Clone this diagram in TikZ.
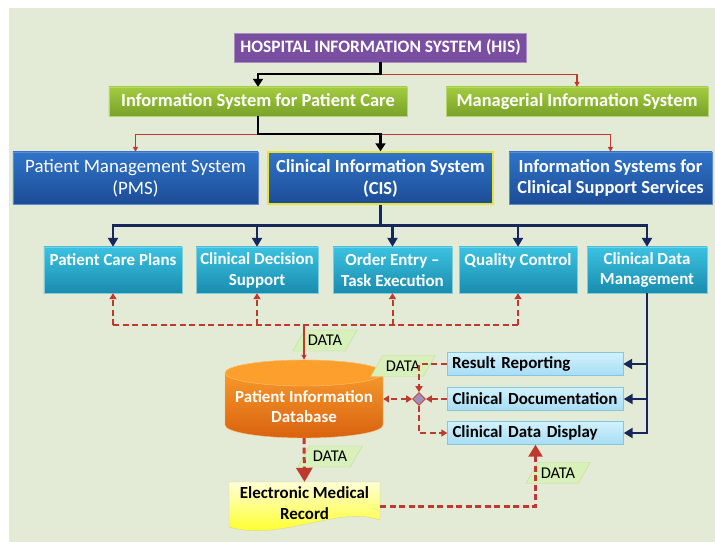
\documentclass[tikz,border=0pt]{standalone}
\usepackage{fontspec}
\setmainfont{Carlito}
\usetikzlibrary{shapes.geometric,arrows.meta}
\definecolor{bggreen}{HTML}{E3EAD5}
\definecolor{hispurple}{HTML}{7A4EA0}
\definecolor{hisedge}{HTML}{A88CC4}
\definecolor{greentop}{HTML}{A4CB3F}
\definecolor{greenbot}{HTML}{78A22A}
\definecolor{greenedge}{HTML}{B5D66A}
\definecolor{bluetop}{HTML}{3074C8}
\definecolor{bluebot}{HTML}{1C4C96}
\definecolor{blueedge}{HTML}{5C8BD0}
\definecolor{cisedge}{HTML}{E4E43C}
\definecolor{tealtop}{HTML}{3CC2E0}
\definecolor{tealbot}{HTML}{1A8CAE}
\definecolor{tealedge}{HTML}{7CCDE0}
\definecolor{lbtop}{HTML}{D2F1FD}
\definecolor{lbbot}{HTML}{A6DDF4}
\definecolor{lbedge}{HTML}{86C6DE}
\definecolor{orangetop}{HTML}{FBA331}
\definecolor{orangebot}{HTML}{D9620F}
\definecolor{orangelid}{HTML}{FC9F2C}
\definecolor{orangeedge}{HTML}{FBC27A}
\definecolor{emrtop}{HTML}{FFFFD6}
\definecolor{emrbot}{HTML}{FFFF0A}
\definecolor{emredge}{HTML}{D4DC8A}
\definecolor{datagreen}{HTML}{D8F0BA}
\definecolor{dataedge}{HTML}{C2DE9C}
\definecolor{redline}{HTML}{BE3A2E}
\definecolor{navyline}{HTML}{17275C}
\definecolor{diafill}{HTML}{9E8FB4}
\begin{document}
\begin{tikzpicture}[x=1bp,y=-1bp,>={Triangle[width=7bp,length=6bp]},
  hisbox/.style={draw=hisedge,fill=hispurple,text=white,font=\bfseries\fontsize{17.5}{20}\selectfont,minimum width=292bp,minimum height=29bp,inner sep=0bp},
  greenbox/.style={draw=greenedge,top color=greentop,bottom color=greenbot,text=white,font=\bfseries\fontsize{18.5}{20}\selectfont,minimum height=29bp,inner sep=0bp},
  bluebox/.style={draw=blueedge,top color=bluetop,bottom color=bluebot,text=white,font=\bfseries\fontsize{18.5}{22}\selectfont,align=center,minimum height=52bp,inner sep=0bp},
  rowbox/.style={draw=tealedge,top color=tealtop,bottom color=tealbot,text=white,font=\bfseries\fontsize{17}{21}\selectfont,align=center,minimum height=46bp,inner sep=0bp},
  subbox/.style={draw=lbedge,top color=lbtop,bottom color=lbbot,font=\bfseries\fontsize{17}{19}\selectfont,text width=166bp,align=left,minimum height=23bp,inner xsep=5bp,inner ysep=0bp},
  datatag/.style={trapezium,trapezium left angle=60,trapezium right angle=120,draw=dataedge,fill=datagreen,font=\fontsize{16.5}{18}\selectfont,inner xsep=3bp,inner ysep=5.2bp},
  blkconn/.style={draw=black,line width=2.4,-{Triangle[width=10bp,length=8bp]}},
  redconn/.style={draw=redline,line width=1.3,-{Triangle[width=5bp,length=5bp]}},
  navyconn/.style={draw=navyline,line width=2.6,-{Triangle[width=10bp,length=9bp]}},
  dashconn/.style={draw=redline,line width=2,dash pattern=on 6bp off 3.5bp}]
  \fill[white] (0,0) rectangle (715,542);
  \fill[bggreen] (9,8) rectangle (715,542);
  \useasboundingbox (0,0) rectangle (715,542);
  \node[hisbox] (his) at (380.5,47.5) {HOSPITAL INFORMATION SYSTEM (HIS)};
  \node[greenbox,minimum width=298bp] (ispc) at (258,101.5) {Information System for Patient Care};
  \node[greenbox,minimum width=262bp] (mis) at (577,101.5) {Managerial Information System};
  \node[bluebox,minimum width=245bp,font=\fontsize{19}{22}\selectfont] (pms) at (135.5,178) {Patient Management System\\(PMS)};
  \node[bluebox,minimum width=225bp,draw=cisedge,line width=1.5] (cis) at (380.5,178) {Clinical Information System\\(CIS)};
  \node[bluebox,minimum width=203bp] (iscs) at (610.5,178) {Information Systems for\\Clinical Support Services};
  \node[rowbox,minimum width=138bp] (pcp) at (113,270) {Patient Care Plans\\\phantom{x}};
  \node[rowbox,minimum width=122bp] (cds) at (257,270) {Clinical Decision\\Support};
  \node[rowbox,minimum width=119bp] (oe) at (392.5,270) {Order Entry –\\Task Execution};
  \node[rowbox,minimum width=118bp] (qc) at (518,270) {Quality Control\\\phantom{x}};
  \node[rowbox,minimum width=120bp] (cdm) at (647,270) {Clinical Data\\Management};
  \node[subbox] (rr) at (535,364) {Result Reporting};
  \node[subbox] (cd) at (535.5,399) {Clinical Documentation};
  \node[subbox] (cdd) at (535.5,433) {Clinical Data Display};
  \node[diamond,draw=redline,fill=diafill,line width=0.6,minimum width=13bp,minimum height=13bp,inner sep=0bp] (dia) at (419,399) {};
  \shadedraw[top color=orangetop,bottom color=orangebot,draw=orangeedge] (225,373) -- (225,425) arc[start angle=180,end angle=360,x radius=79bp,y radius=13bp] -- (383,373) arc[start angle=0,end angle=180,x radius=79bp,y radius=13bp] -- cycle;
  \filldraw[fill=orangelid,draw=orangeedge] (304,373) ellipse[x radius=79bp,y radius=13bp];
  \node[minimum width=158bp,minimum height=78bp,inner sep=0bp] (db) at (304,399) {};
  \node[text=white,font=\bfseries\fontsize{17}{20}\selectfont,align=center] (dbname) at (304,407) {Patient Information\\Database};
  \shadedraw[top color=emrtop,bottom color=emrbot,draw=emredge] (229,482) -- (380,482) -- (380,520) .. controls (338,505) and (282,542) .. (229,527) -- cycle;
  \node[font=\bfseries\fontsize{17}{21}\selectfont,align=center,minimum width=151bp,minimum height=43bp,inner sep=0bp] (emr) at (304.5,503.5) {Electronic Medical\\Record};
  \node[datatag] (d1) at (325,340.5) {DATA};
  \node[datatag] (d2) at (403,366) {DATA};
  \node[datatag] (d3) at (330,456.5) {DATA};
  \node[datatag] (d4) at (558,473) {DATA};
  \draw[redconn] (his.south) ++(0,12) -| (mis.north);
  \draw[blkconn] (his.south) -- ++(0,12) -| (ispc.north);
  \draw[redconn] (ispc.south) ++(0,18) -| (pms.north);
  \draw[redconn] (ispc.south) ++(0,18) -| (iscs.north);
  \draw[blkconn] (ispc.south) -- ++(0,18) -| (cis.north);
  \draw[navyconn,-] (cis.south) -- ++(0,21) coordinate (bus);
  \draw[navyconn,-,line cap=rect] (pcp.north |- bus) -- (cdm.north |- bus);
  \foreach \n in {pcp,cds,oe,qc,cdm}
    \draw[navyconn] (\n.north |- bus) -- (\n.north);
  \foreach \n in {rr,cd,cdd}
    \draw[navyconn] (cdm.south) |- (\n.east);
  \coordinate (dbus) at (0,325);
  \draw[dashconn] (pcp.south |- dbus) -- (qc.south |- dbus);
  \foreach \n in {pcp,cds,oe,qc}
    \draw[dashconn,->] (\n.south |- dbus) -- (\n.south);
  \draw[redconn,line width=2] (db.north |- dbus) -- (db.north);
  \draw[dashconn,->] (rr.west) -| (dia.north);
  \draw[dashconn,->] (cd.west) -- (dia.east);
  \draw[dashconn,<->] (dia.west) -- (db.east);
  \draw[dashconn,->] (dia.south) |- (cdd.west);
  \draw[dashconn,line width=3,-{Triangle[width=16bp,length=14bp]}] (db.south) -- (emr.north);
  \draw[dashconn,line width=2.2,-{Triangle[width=14bp,length=12bp]}] ([yshift=-3bp]emr.east) -| (cdd.south);
\end{tikzpicture}
\end{document}
